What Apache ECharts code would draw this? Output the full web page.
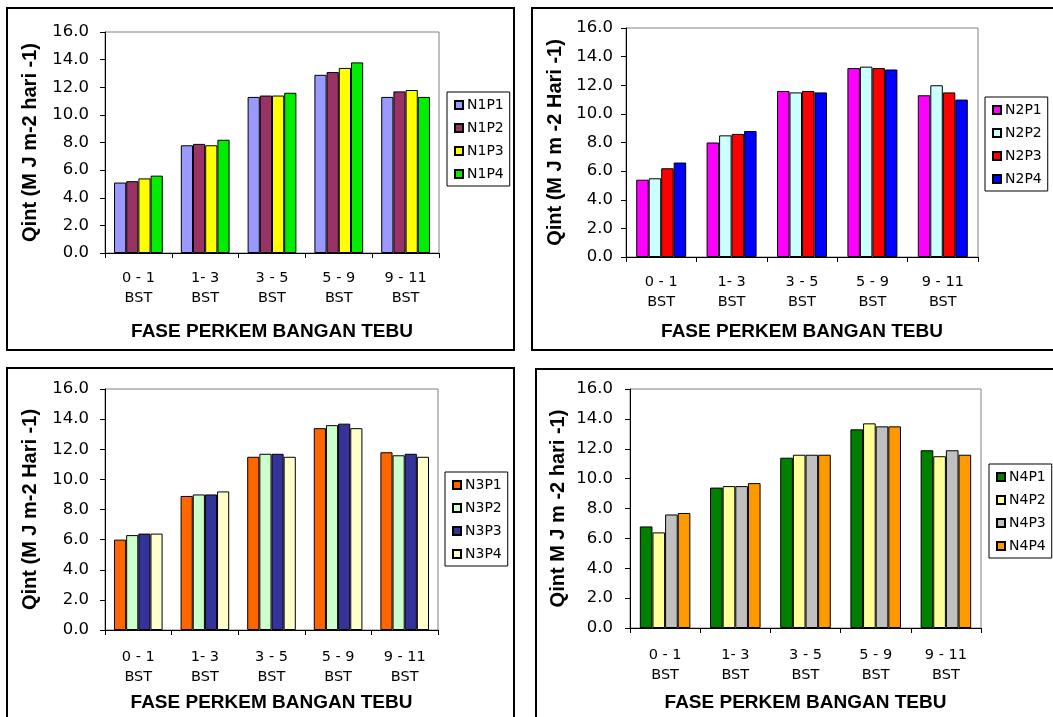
<!DOCTYPE html>
<html>
<head>
<meta charset="utf-8">
<script src="https://cdn.jsdelivr.net/npm/echarts@6/dist/echarts.min.js"></script>
<style>
html,body{margin:0;padding:0;background:#fff;}
#c{width:1053px;height:717px;}
</style>
</head>
<body>
<div id="c"></div>
<script>
// ---- data ----
const categories = ['0 - 1', '1- 3', '3 - 5', '5 - 9', '9 - 11'];
const subLabel = 'BST';
const yTicks = [0, 2, 4, 6, 8, 10, 12, 14, 16];
const xTitle = 'FASE PERKEM BANGAN TEBU';
const yTitles = ['Qint (M J m-2 hari -1)', 'Qint (M J m -2 Hari -1)', 'Qint (M J m-2 Hari -1)', 'Qint M J m -2 hari -1)'];

const n1Names = ['N1P1', 'N1P2', 'N1P3', 'N1P4'];
const n1p1 = [5.1, 7.8, 11.3, 12.9, 11.3];
const n1p2 = [5.2, 7.9, 11.4, 13.1, 11.7];
const n1p3 = [5.4, 7.8, 11.4, 13.4, 11.8];
const n1p4 = [5.6, 8.2, 11.6, 13.8, 11.3];

const n2Names = ['N2P1', 'N2P2', 'N2P3', 'N2P4'];
const n2p1 = [5.4, 8.0, 11.6, 13.2, 11.3];
const n2p2 = [5.5, 8.5, 11.5, 13.3, 12.0];
const n2p3 = [6.2, 8.6, 11.6, 13.2, 11.5];
const n2p4 = [6.6, 8.8, 11.5, 13.1, 11.0];

const n3Names = ['N3P1', 'N3P2', 'N3P3', 'N3P4'];
const n3p1 = [6.0, 8.9, 11.5, 13.4, 11.8];
const n3p2 = [6.3, 9.0, 11.7, 13.6, 11.6];
const n3p3 = [6.4, 9.0, 11.7, 13.7, 11.7];
const n3p4 = [6.4, 9.2, 11.5, 13.4, 11.5];

const n4Names = ['N4P1', 'N4P2', 'N4P3', 'N4P4'];
const n4p1 = [6.8, 9.4, 11.4, 13.3, 11.9];
const n4p2 = [6.4, 9.5, 11.6, 13.7, 11.5];
const n4p3 = [7.6, 9.5, 11.6, 13.5, 11.9];
const n4p4 = [7.7, 9.7, 11.6, 13.5, 11.6];

// ---- styles ----
const panelColors = [
  ['#9999FF', '#993366', '#FFFF00', '#00EE00'],
  ['#FF00FF', '#CCFFFF', '#FF0000', '#0000FF'],
  ['#FF6600', '#CCFFCC', '#333399', '#FFFFCC'],
  ['#008000', '#FFFF99', '#C0C0C0', '#FF9900']
];
const panelNames = [n1Names, n2Names, n3Names, n4Names];
const panelData = [[n1p1, n1p2, n1p3, n1p4], [n2p1, n2p2, n2p3, n2p4], [n3p1, n3p2, n3p3, n3p4], [n4p1, n4p2, n4p3, n4p4]];

const grids = [
  {left: 105, top: 32, width: 334, height: 221},
  {left: 626, top: 28, width: 352, height: 229},
  {left: 105, top: 389, width: 333, height: 241},
  {left: 630, top: 389, width: 351, height: 239}
];
const legendPos = [{left: 447, top: 92}, {left: 985, top: 97}, {left: 445, top: 472}, {left: 989, top: 464}];
const xLabelMargin = [15, 15, 17, 17];
const yLabelMargin = [16, 13, 16, 17];
const xNameGap = [69, 65, 63, 65];
const yNameGap = [65, 61, 65, 62];
const catGap = ['27%', '29%', '27%', '28%'];
const frames = [
  {x: 7, y: 8, width: 507, height: 342},
  {x: 532, y: 8, width: 540, height: 342},
  {x: 7, y: 368, width: 507, height: 380},
  {x: 536, y: 369, width: 540, height: 380}
];

const sansW = 'DejaVu Sans';
const sans = 'Liberation Sans, Arial, sans-serif';

const option = {
  backgroundColor: '#fff',
  animation: false,
  grid: grids.map(g => Object.assign({show: true, borderColor: '#808080', borderWidth: 1, backgroundColor: 'transparent'}, g)),
  xAxis: grids.map((g, i) => ({
    type: 'category',
    gridIndex: i,
    data: categories,
    axisLine: {show: true, lineStyle: {color: '#000', width: 1}},
    axisTick: {show: true, alignWithLabel: false, interval: 0, length: 5, lineStyle: {color: '#000'}},
    axisLabel: {
      interval: 0, margin: xLabelMargin[i], color: '#000', fontFamily: sansW, fontSize: 14.5, lineHeight: 20,
      formatter: v => v + '\n' + subLabel
    },
    name: xTitle,
    nameLocation: 'middle',
    nameGap: xNameGap[i],
    nameTextStyle: {color: '#000', fontFamily: sans, fontWeight: 'bold', fontSize: 19}
  })),
  yAxis: grids.map((g, i) => ({
    type: 'value',
    gridIndex: i,
    min: yTicks[0],
    max: yTicks[yTicks.length - 1],
    interval: yTicks[1] - yTicks[0],
    splitLine: {show: false},
    axisLine: {show: true, lineStyle: {color: '#000', width: 1}},
    axisTick: {show: true, length: 5, lineStyle: {color: '#000'}},
    axisLabel: {margin: yLabelMargin[i], color: '#000', fontFamily: sansW, fontSize: 16.5, formatter: v => v.toFixed(1)},
    name: yTitles[i],
    nameLocation: 'middle',
    nameGap: yNameGap[i],
    nameTextStyle: {color: '#000', fontFamily: sans, fontWeight: 'bold', fontSize: 20}
  })),
  legend: panelNames.map((names, i) => ({
    data: names,
    orient: 'vertical',
    left: legendPos[i].left,
    top: legendPos[i].top,
    icon: 'rect',
    itemWidth: 8,
    itemHeight: 8,
    itemGap: 9,
    padding: [6, 6, 5, 7],
    borderColor: '#000',
    borderWidth: 1,
    backgroundColor: '#fff',
    selectedMode: false,
    textStyle: {color: '#000', fontFamily: sansW, fontSize: 14, lineHeight: 14, padding: [0, 0, 0, -1]}
  })),
  series: [],
  graphic: frames.map(f => ({
    type: 'rect',
    shape: {x: f.x, y: f.y, width: f.width, height: f.height},
    style: {fill: 'none', stroke: '#000', lineWidth: 2},
    silent: true,
    z: 0
  }))
};

panelNames.forEach((names, i) => {
  names.forEach((name, k) => {
    option.series.push({
      type: 'bar',
      name: name,
      xAxisIndex: i,
      yAxisIndex: i,
      data: panelData[i][k],
      barGap: '0%',
      barCategoryGap: catGap[i],
      itemStyle: {color: panelColors[i][k], borderColor: '#000', borderWidth: 1}
    });
  });
});

const chart = echarts.init(document.getElementById('c'), null, {renderer: 'canvas'});
chart.setOption(option);
</script>
</body>
</html>
